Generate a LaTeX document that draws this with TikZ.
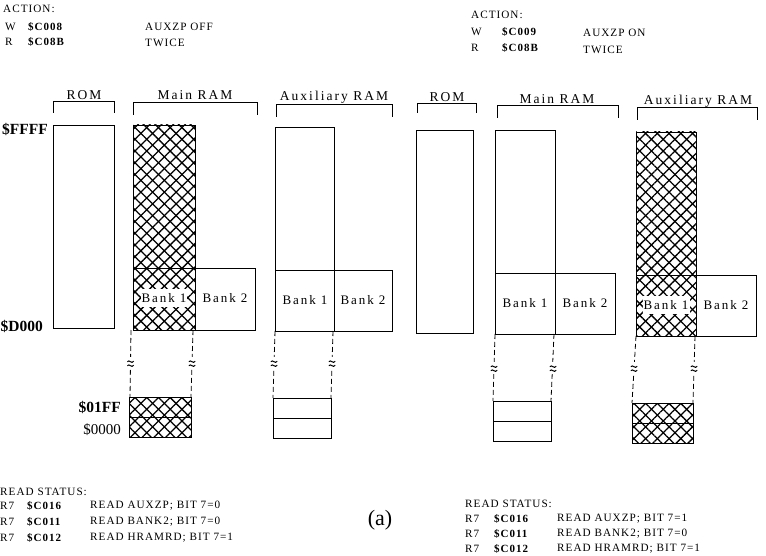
\documentclass[tikz,border=0pt]{standalone}
\usepackage{fontspec}
\setmainfont{Liberation Serif}
\newfontfamily\labfont[LetterSpace=15]{Liberation Serif}
\newfontfamily\bankfont[LetterSpace=15]{Liberation Serif}
\newfontfamily\smfont[LetterSpace=9]{Liberation Serif}
\usetikzlibrary{patterns.meta}
\tikzset{
  txt/.style={anchor=west, inner sep=0pt, font=\smfont\fontsize{11.2}{12}\selectfont},
  adr/.style={anchor=west, inner sep=0pt, font=\smfont\bfseries\fontsize{11}{12}\selectfont},
  lab/.style={inner sep=0pt, font=\labfont\fontsize{13.5}{15}\selectfont},
  bigadr/.style={anchor=east, inner sep=0pt, font=\bfseries\fontsize{15.5}{17}\selectfont},
  banklab/.style={inner sep=0pt, font=\bankfont\fontsize{13}{14}\selectfont},
  whitelab/.style={banklab, fill=white, inner xsep=1pt, inner ysep=4pt},
  mem/.style={line width=0.9pt},
  brk/.style={line width=0.9pt},
  hatcha/.style={pattern={Lines[angle=45,distance=8.3pt,line width=1.3pt]}},
  hatchb/.style={pattern={Lines[angle=-45,distance=8.3pt,line width=1.3pt]}},
  dsh/.style={line width=0.8pt, dash pattern=on 5pt off 3pt},
  approxmark/.pic={
    \fill[white] (-3.5,-6) rectangle (3.5,6);
    \draw[line width=1pt] (-3.2,-1.2) .. controls (-1.2,-4.2) and (1.2,1.8) .. (3.2,-1.8);
    \draw[line width=1pt] (-3.2,2.8) .. controls (-1.2,-0.2) and (1.2,5.8) .. (3.2,2.2);
  },
}
\begin{document}
\begin{tikzpicture}[x=1pt,y=-1pt]
\useasboundingbox (0,0) rectangle (766,556);
% ---------------- top texts
\node[txt] (actL) at (3,9) {ACTION:};
\node[txt] (wL) at (5,27) {W};
\node[adr] (wLa) at (28,27) {\$C008};
\node[txt] (wLt) at (145,27) {AUXZP OFF};
\node[txt] (rL) at (5,42) {R};
\node[adr] (rLa) at (28,42) {\$C08B};
\node[txt] (rLt) at (145,43) {TWICE};
\node[txt] (actR) at (471,15) {ACTION:};
\node[txt] (wR) at (471,32) {W};
\node[adr] (wRa) at (502,32) {\$C009};
\node[txt] (wRt) at (583,33) {AUXZP ON};
\node[txt] (rR) at (471,48) {R};
\node[adr] (rRa) at (502,48) {\$C08B};
\node[txt] (rRt) at (583,50) {TWICE};
% ---------------- headings and brackets (left)
\node[lab] (romL) at (84,95) {ROM};
\node[lab] (mainL) at (195,95) {Main RAM};
\node[lab] (auxL) at (334,97) {Auxiliary RAM};
\draw[brk] (53,113) -- (53,101) -- (114,101) -- (114,113);
\draw[brk] (133,115) -- (133,102) -- (257,102) -- (257,115);
\draw[brk] (276,117) -- (276,104) -- (392,104) -- (392,117);
% headings and brackets (right)
\node[lab] (romR) at (447,97) {ROM};
\node[lab] (mainR) at (557,99) {Main RAM};
\node[lab] (auxR) at (698,101) {Auxiliary RAM};
\draw[brk] (417,113) -- (417,103) -- (476,103) -- (476,113);
\draw[brk] (497,118) -- (497,105) -- (618,105) -- (618,118);
\draw[brk] (637,120) -- (637,107) -- (757,107) -- (757,120);
% ---------------- address labels
\node[bigadr] (ffff) at (48,129) {\$FFFF};
\node[bigadr] (d000) at (43,326) {\$D000};
\node[bigadr] (o1ff) at (121,407) {\$01FF};
\node[anchor=east, inner sep=0pt, font=\fontsize{15}{17}\selectfont] (o000) at (121,430) {\$0000};
% ================= LEFT PANEL
% ROM
\draw[mem] (53,125) rectangle (114,328);
% Main RAM (hatched)
\path[hatcha] (133,125) rectangle (195,330);
\path[hatchb] (133,125) rectangle (195,330);
\draw[mem] (133,125) rectangle (195,330);
\draw[mem] (133,268) -- (195,268);
\draw[mem] (195,268) rectangle (255,330);
\node[whitelab] (b1L) at (164,298) {Bank 1};
\node[banklab] (b2L) at (225,298) {Bank 2};
% Auxiliary RAM
\draw[mem] (275,127) rectangle (334,331);
\draw[mem] (275,270) -- (334,270);
\draw[mem] (334,270) rectangle (392,331);
\node[banklab] (b1La) at (305,300) {Bank 1};
\node[banklab] (b2La) at (363,300) {Bank 2};
% dashed continuations
\coordinate (dL1t) at (131,330); \coordinate (dL1b) at (130,397);
\coordinate (dL2t) at (193,330); \coordinate (dL2b) at (191,397);
\draw[dsh] (dL1t) -- (dL1b);
\draw[dsh] (dL2t) -- (dL2b);
\coordinate (wL1) at (130.5,363); \coordinate (wL2) at (192,363);
\pic at (wL1) {approxmark};
\pic at (wL2) {approxmark};
\coordinate (dL3t) at (275,331); \coordinate (dL3b) at (273,398);
\coordinate (dL4t) at (333,331); \coordinate (dL4b) at (331,398);
\draw[dsh] (dL3t) -- (dL3b);
\draw[dsh] (dL4t) -- (dL4b);
\coordinate (wL3) at (274,363); \coordinate (wL4) at (332,363);
\pic at (wL3) {approxmark};
\pic at (wL4) {approxmark};
% lower blocks
\path[hatcha] (129,397) rectangle (191,437);
\path[hatchb] (129,397) rectangle (191,437);
\draw[mem] (129,397) rectangle (191,437);
\draw[mem] (129,417) -- (191,417);
\draw[mem] (273,398) rectangle (331,438);
\draw[mem] (273,418) -- (331,418);
% ================= RIGHT PANEL
\draw[mem] (416,130) rectangle (473,333);
% Main RAM
\draw[mem] (495,130) rectangle (555,334);
\draw[mem] (495,273) -- (555,273);
\draw[mem] (555,273) rectangle (615,334);
\node[banklab] (b1R) at (525,303) {Bank 1};
\node[banklab] (b2R) at (585,303) {Bank 2};
% Auxiliary RAM (hatched)
\path[hatcha] (636,132) rectangle (696,336);
\path[hatchb] (636,132) rectangle (696,336);
\draw[mem] (636,132) rectangle (696,336);
\draw[mem] (636,275) -- (696,275);
\draw[mem] (696,275) rectangle (756,336);
\node[whitelab] (b1Ra) at (666,305) {Bank 1};
\node[banklab] (b2Ra) at (726,305) {Bank 2};
% dashed continuations
\coordinate (dR1t) at (495,334); \coordinate (dR1b) at (493,401);
\coordinate (dR2t) at (554,334); \coordinate (dR2b) at (551,401);
\draw[dsh] (dR1t) -- (dR1b);
\draw[dsh] (dR2t) -- (dR2b);
\coordinate (wR1) at (494,368); \coordinate (wR2) at (553,368);
\pic at (wR1) {approxmark};
\pic at (wR2) {approxmark};
\coordinate (dR3t) at (636,336); \coordinate (dR3b) at (632,403);
\coordinate (dR4t) at (695,336); \coordinate (dR4b) at (693,403);
\draw[dsh] (dR3t) -- (dR3b);
\draw[dsh] (dR4t) -- (dR4b);
\coordinate (wR3) at (634,368); \coordinate (wR4) at (694,368);
\pic at (wR3) {approxmark};
\pic at (wR4) {approxmark};
% lower blocks
\draw[mem] (493,401) rectangle (551,441);
\draw[mem] (493,421) -- (551,421);
\path[hatcha] (632,403) rectangle (693,443);
\path[hatchb] (632,403) rectangle (693,443);
\draw[mem] (632,403) rectangle (693,443);
\draw[mem] (632,423) -- (693,423);
% ---------------- bottom texts
\node[txt] (rsL) at (0,492) {READ STATUS:};
\node[txt] (r1L) at (0,506) {R7};
\node[adr] (r1La) at (27,506) {\$C016};
\node[txt] (r1Lt) at (90,506) {READ AUXZP; BIT 7=0};
\node[txt] (r2L) at (0,522) {R7};
\node[adr] (r2La) at (27,522) {\$C011};
\node[txt] (r2Lt) at (90,522) {READ BANK2; BIT 7=0};
\node[txt] (r3L) at (0,538) {R7};
\node[adr] (r3La) at (27,538) {\$C012};
\node[txt] (r3Lt) at (90,538) {READ HRAMRD; BIT 7=1};
\node[inner sep=0pt, font=\fontsize{22}{24}\selectfont] (cap) at (380,520) {(a)};
\node[txt] (rsR) at (465,504) {READ STATUS:};
\node[txt] (r1R) at (465,519) {R7};
\node[adr] (r1Ra) at (494,519) {\$C016};
\node[txt] (r1Rt) at (557,519) {READ AUXZP; BIT 7=1};
\node[txt] (r2R) at (465,534) {R7};
\node[adr] (r2Ra) at (494,534) {\$C011};
\node[txt] (r2Rt) at (557,534) {READ BANK2; BIT 7=0};
\node[txt] (r3R) at (465,549) {R7};
\node[adr] (r3Ra) at (494,549) {\$C012};
\node[txt] (r3Rt) at (557,549) {READ HRAMRD; BIT 7=1};
\end{tikzpicture}
\end{document}
